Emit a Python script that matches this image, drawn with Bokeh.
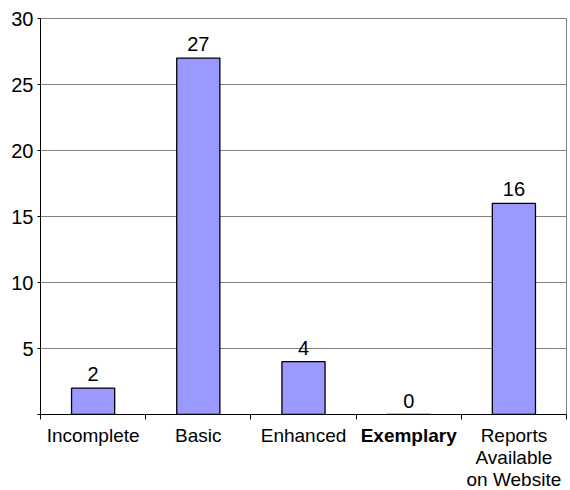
from bokeh.plotting import figure
from bokeh.layouts import column
from bokeh.models import ColumnDataSource, LabelSet, FixedTicker, Range1d
from bokeh.core.properties import value
from bokeh.embed import file_html
from bokeh.resources import INLINE

categories = ["Incomplete", "Basic", "Enhanced", "Exemplary", "Reports\nAvailable\non Website"]
values = [2, 27, 4, 0, 16]
bold_category = "Exemplary"
y_ticks = [0, 5, 10, 15, 20, 25, 30]
y_tick_labels = ["", "5", "10", "15", "20", "25", "30"]

FONT = "Liberation Sans"
FS = "20px"

xs = [i + 0.5 for i in range(len(categories))]
src = ColumnDataSource(dict(
    x=xs, value=values, vtext=[str(v) for v in values], cat=categories,
    cat_style=["bold" if c == bold_category else "normal" for c in categories],
))

p = figure(width=570, height=422, x_range=Range1d(0, len(categories)), y_range=Range1d(0, 30),
           output_backend="svg", toolbar_location=None,
           min_border_left=40, min_border_right=4, min_border_top=18, min_border_bottom=8)
p.background_fill_color = "white"
p.border_fill_color = "white"
p.outline_line_color = "#808080"
p.outline_line_width = 1

p.vbar(x="x", top="value", width=0.41, source=src, fill_color="#9999FF",
       line_color="black", line_width=1.3)

# x axis: only tick marks at the category boundaries (labels in the strip below)
xa = p.xaxis[0]
xa.ticker = FixedTicker(ticks=xs, minor_ticks=list(range(len(categories) + 1)))
xa.major_label_overrides = {x: "" for x in xs}
xa.major_label_standoff = 0
xa.major_label_text_font_size = "1px"
xa.major_tick_in = 0
xa.major_tick_out = 0
xa.minor_tick_in = 0
xa.minor_tick_out = 5
xa.minor_tick_line_color = "black"
xa.axis_line_color = "black"
p.xgrid.grid_line_color = None

ya = p.yaxis[0]
ya.ticker = FixedTicker(ticks=y_ticks)
ya.major_label_overrides = {t: l for t, l in zip(y_ticks, y_tick_labels)}
ya.major_tick_in = 0
ya.major_tick_out = 3
ya.minor_tick_line_color = None
ya.major_label_standoff = 4
ya.major_label_text_font = FONT
ya.major_label_text_font_size = FS
ya.major_label_text_color = "black"
ya.axis_line_color = "black"
ya.major_tick_line_color = "black"
p.ygrid.ticker = FixedTicker(ticks=y_ticks[1:])
p.ygrid.grid_line_color = "#808080"
p.ygrid.grid_line_width = 1

p.add_layout(LabelSet(x="x", y="value", text="vtext", source=src, text_align="center",
                      text_baseline="bottom", y_offset=7, text_font=value(FONT),
                      text_font_size=FS, text_color="black"))

# category label strip, sharing the x range
p2 = figure(width=570, height=68, x_range=p.x_range, y_range=Range1d(0, 1),
            output_backend="svg", toolbar_location=None,
            x_axis_location=None, y_axis_location=None,
            min_border_left=40, min_border_right=4, min_border_top=0, min_border_bottom=0)
p2.outline_line_color = None
p2.grid.grid_line_color = None
p2.background_fill_color = "white"
p2.border_fill_color = "white"
p2.text(x="x", y=1, text="cat", source=src, text_align="center", text_baseline="top",
        y_offset=2, text_font=value(FONT), text_font_style="cat_style", text_font_size="19px",
        text_color="black", text_line_height=1.05)

open("out.html", "w").write(file_html(column(p, p2, spacing=0), INLINE))
